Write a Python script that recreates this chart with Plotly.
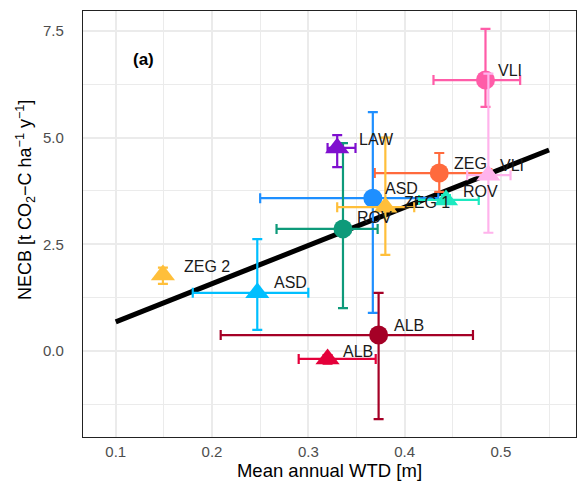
import plotly.graph_objects as go

# ---- data ----
circ_site = ["VLI", "ZEG", "ASD", "ROV", "ALB"]
circ_x = [0.484, 0.436, 0.367, 0.336, 0.373]
circ_y = [6.35, 4.17, 3.58, 2.86, 0.37]
circ_xlo = [0.430, 0.369, 0.250, 0.267, 0.209]
circ_xhi = [0.520, 0.490, 0.435, 0.372, 0.471]
circ_ylo = [5.72, 3.73, 0.89, 1.00, -1.60]
circ_yhi = [7.55, 4.64, 5.60, 4.87, 1.36]
circ_color = ["#FF5CA8", "#FF6A3D", "#1E8FFF", "#0E9A7A", "#A50026"]

tri_site = ["VLI", "ROV", "ZEG 1", "LAW", "ZEG 2", "ASD", "ALB"]
tri_x = [0.487, 0.443, 0.380, 0.330, 0.149, 0.247, 0.320]
tri_y = [4.12, 3.54, 3.37, 4.76, 1.78, 1.36, -0.19]
tri_xlo = [0.465, 0.415, 0.330, 0.320, 0.147, 0.180, 0.290]
tri_xhi = [0.510, 0.477, 0.410, 0.349, 0.151, 0.300, 0.370]
tri_ylo = [2.77, 3.45, 2.25, 4.31, 1.57, 0.49, -0.30]
tri_yhi = [6.50, 3.65, 5.00, 5.06, 1.95, 2.62, -0.10]
tri_color = ["#FFB3EC", "#1DE9C0", "#FFBF3A", "#7F0FCF", "#FFBF3A", "#00BFFF", "#E4003A"]

fit_x = [0.10, 0.55]
fit_y = [0.68, 4.71]

# label offsets in pixels (dx right, dy up)
circ_off = [(25, 10), (31, 10), (29, 10), (32, 11), (30, 10)]
tri_off = [(24, 10), (34, 8), (42, 5), (39, 8), (44, 8), (33, 10), (30, 7)]

LABEL_FONT = dict(family="Liberation Sans, Arial", size=16, color="#1a1a1a")

fig = go.Figure()

fig.add_trace(go.Scatter(x=fit_x, y=fit_y, mode="lines",
                         line=dict(color="black", width=5), showlegend=False))


def add_pts(sites, xs, ys, xlo, xhi, ylo, yhi, cols, symbol, size):
    for i in range(len(sites)):
        fig.add_trace(go.Scatter(
            x=[xs[i]], y=[ys[i]], mode="markers",
            marker=dict(symbol=symbol, size=size, color=cols[i], line=dict(width=0)),
            error_x=dict(type="data", symmetric=False,
                         array=[xhi[i] - xs[i]], arrayminus=[xs[i] - xlo[i]],
                         color=cols[i], thickness=2.2, width=5),
            error_y=dict(type="data", symmetric=False,
                         array=[yhi[i] - ys[i]], arrayminus=[ys[i] - ylo[i]],
                         color=cols[i], thickness=2.2, width=5),
            showlegend=False))


add_pts(circ_site, circ_x, circ_y, circ_xlo, circ_xhi, circ_ylo, circ_yhi,
        circ_color, "circle", 19)
add_pts(tri_site, tri_x, tri_y, tri_xlo, tri_xhi, tri_ylo, tri_yhi,
        tri_color, "triangle-up", 21)

for sites, xs, ys, offs in [(circ_site, circ_x, circ_y, circ_off),
                            (tri_site, tri_x, tri_y, tri_off)]:
    for s, x, y, (dx, dy) in zip(sites, xs, ys, offs):
        fig.add_annotation(x=x, y=y, text=s, showarrow=False, xshift=dx, yshift=dy,
                           xanchor="center", yanchor="middle", font=LABEL_FONT)

fig.add_annotation(xref="paper", yref="paper", x=0.097, y=0.887, text="<b>(a)</b>",
                   xanchor="left", yanchor="middle", showarrow=False,
                   font=dict(family="Liberation Sans, Arial", size=17, color="black"))

# y-axis title as rotated annotation
fig.add_annotation(xref="paper", yref="paper", x=-0.118, y=0.556,
                   text="NECB [t CO<sub>2</sub>\u2212C ha<sup>\u22121</sup> y<sup>\u22121</sup>]",
                   textangle=-90, xanchor="center", yanchor="middle", showarrow=False,
                   font=dict(family="Liberation Sans, Arial", size=18, color="black"))

grid = "#EBEBEB"
fig.update_layout(
    width=577, height=495,
    margin=dict(l=83, r=1, t=11, b=58),
    paper_bgcolor="white", plot_bgcolor="white",
    font=dict(family="Liberation Sans, Arial"),
    xaxis=dict(range=[0.066, 0.578], tick0=0.1, dtick=0.1, tickformat=".1f",
               showgrid=True, gridcolor=grid, gridwidth=1.6, zeroline=False,
               minor=dict(dtick=0.05, tick0=0.05, showgrid=True, gridcolor=grid, gridwidth=0.8),
               showline=True, mirror=True, linecolor="#222", linewidth=1.2,
               ticks="outside", ticklen=1, tickcolor="rgba(0,0,0,0)",
               tickfont=dict(size=15, color="#4D4D4D"),
               title=dict(text="Mean annual WTD [m]", font=dict(size=18.5, color="black"), standoff=2)),
    yaxis=dict(range=[-2.02, 7.97], tick0=0, dtick=2.5, tickformat=".1f",
               showgrid=True, gridcolor=grid, gridwidth=1.6, zeroline=False,
               minor=dict(dtick=1.25, tick0=-1.25, showgrid=True, gridcolor=grid, gridwidth=0.8),
               showline=True, mirror=True, linecolor="#222", linewidth=1.2,
               ticks="outside", ticklen=15, tickcolor="rgba(0,0,0,0)",
               tickfont=dict(size=15, color="#4D4D4D")),
)

fig.write_html("out.html")
